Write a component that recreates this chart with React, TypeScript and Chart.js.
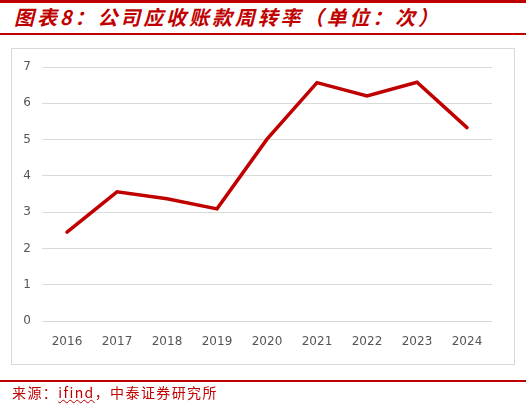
import React, { useEffect, useRef } from "react";
import { Chart, registerables } from "chart.js";

Chart.register(...registerables);

const categories = ["2016", "2017", "2018", "2019", "2020", "2021", "2022", "2023", "2024"];
const turnover = [2.45, 3.56, 3.37, 3.09, 5.01, 6.57, 6.2, 6.58, 5.33];
const yTicks = [0, 1, 2, 3, 4, 5, 6, 7];

const RED = "#c00000";

export default function App() {
  const ref = useRef<HTMLCanvasElement | null>(null);

  useEffect(() => {
    if (!ref.current) return;
    const chart = new Chart(ref.current, {
      type: "line",
      data: {
        labels: categories,
        datasets: [
          {
            data: turnover,
            borderColor: RED,
            backgroundColor: RED,
            borderWidth: 3.5,
            pointRadius: 0,
            tension: 0,
            borderCapStyle: "round",
            borderJoinStyle: "miter",
          },
        ],
      },
      options: {
        responsive: false,
        animation: false,
        layout: { padding: { left: 12, right: 34, top: 67, bottom: 53 } },
        plugins: { legend: { display: false }, tooltip: { enabled: false } },
        scales: {
          x: {
            offset: true,
            grid: { display: false, drawTicks: false },
            border: { display: false },
            ticks: {
              color: "#555555",
              padding: 14,
              maxRotation: 0,
              font: { family: "DejaVu Sans", size: 12 },
            },
            afterFit: (s: any) => {
              s.height = 30;
            },
          },
          y: {
            min: 0,
            max: 7,
            afterBuildTicks: (s: any) => {
              s.ticks = yTicks.map((v) => ({ value: v }));
            },
            grid: { color: "#d9d9d9", lineWidth: 1, drawTicks: false },
            border: { display: false },
            ticks: {
              color: "#555555",
              padding: 11,
              font: { family: "DejaVu Sans", size: 12 },
            },
            afterFit: (s: any) => {
              s.width = 30;
            },
          },
        },
      },
    });
    return () => chart.destroy();
  }, []);

  return (
    <div
      style={{
        position: "fixed",
        left: 0,
        top: 0,
        width: 526,
        height: 404,
        background: "#fff",
        overflow: "hidden",
        fontFamily: "'Noto Sans CJK SC', sans-serif",
      }}
    >
      <div style={{ position: "absolute", left: 0, top: 0, width: 526, height: 3, background: RED }} />
      <div
        style={{
          position: "absolute",
          left: 14,
          top: 3,
          height: 28,
          lineHeight: "28px",
          fontSize: 20,
          fontWeight: "bold",
          fontStyle: "italic",
          color: RED,
          letterSpacing: 2.9,
          whiteSpace: "nowrap",
        }}
      >
        图表8：公司应收账款周转率（单位：次）
      </div>
      <div style={{ position: "absolute", left: 0, top: 33, width: 526, height: 1.5, background: RED }} />
      <div
        style={{
          position: "absolute",
          left: 11,
          top: 48,
          width: 502,
          height: 315,
          border: "1px solid #d9d9d9",
        }}
      />
      <canvas ref={ref} width={526} height={404} style={{ position: "absolute", left: 0, top: 0 }} />
      <div style={{ position: "absolute", left: 0, top: 380, width: 526, height: 1.5, background: RED }} />
      <div
        style={{
          position: "absolute",
          left: 12,
          top: 382,
          height: 20,
          lineHeight: "20px",
          fontSize: 14,
          color: RED,
          letterSpacing: 1.4,
          whiteSpace: "nowrap",
        }}
      >
        来源：
        <span style={{ textDecoration: "underline wavy #c00000", textDecorationThickness: 1 }}>ifind</span>
        ，中泰证券研究所
      </div>
    </div>
  );
}
